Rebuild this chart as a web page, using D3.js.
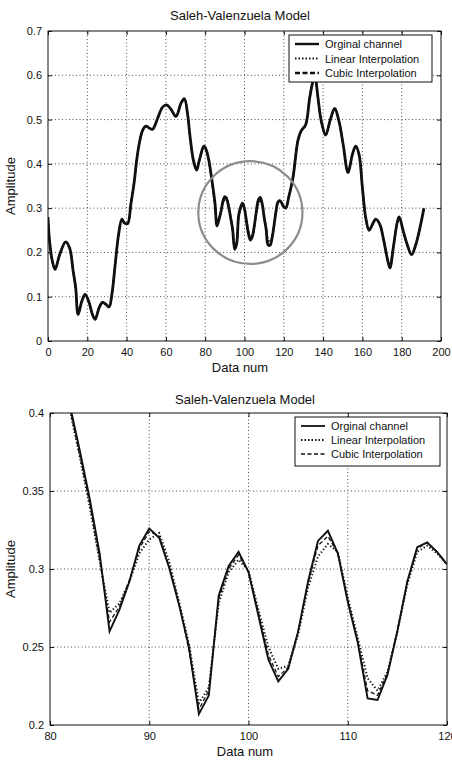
<!DOCTYPE html>
<html lang="en">
<head>
<meta charset="UTF-8">
<title>Saleh-Valenzuela Model</title>
<script src="https://cdnjs.cloudflare.com/ajax/libs/d3/7.8.5/d3.min.js"></script>
<style>
    body { margin: 0; background: #fff; }
    svg { display: block; font-family: "Liberation Sans", Arial, sans-serif; }
    .grid line { stroke: #222; stroke-width: 0.8; stroke-dasharray: 1,2.5; }
    .tick-lbl { font-size: 11px; fill: #111; }
</style>
</head>
<body>
<svg width="452" height="761"></svg>
<script>
    // ---- data ----
    // top plot, original channel before x = 80
    const topHeadX = [0, 0.5, 2, 3.6, 6, 9, 11, 12.8, 14.1, 15.3, 17.2, 18.9, 20.9, 22.6, 24, 26, 27.7, 29.4, 31.1, 32.5,
        34.2, 35.9, 37.6, 38.8, 40.5, 42.2, 43.9, 45.1, 46.4, 48.1, 49.8, 51.5, 53.2, 55.8, 58.3, 60.4, 62.6, 65.1, 67.7,
        69.4, 71.1, 72.2, 74, 75.6, 77, 79.3];
    const topHeadY = [0.28, 0.24, 0.185, 0.162, 0.196, 0.224, 0.21, 0.158, 0.12, 0.06, 0.09, 0.105, 0.087, 0.06, 0.049,
        0.075, 0.087, 0.083, 0.077, 0.105, 0.173, 0.24, 0.275, 0.267, 0.265, 0.31, 0.36, 0.407, 0.445, 0.475, 0.485,
        0.481, 0.478, 0.503, 0.528, 0.533, 0.523, 0.507, 0.537, 0.547, 0.51, 0.465, 0.408, 0.386, 0.408, 0.44];
    // top plot, original channel after x = 120
    const topTailX = [121, 122.5, 124.7, 127.2, 128.9, 131.1, 133.2, 134.9, 135.7, 137.4, 139.1, 141.3, 143.7, 145.9,
        148.1, 150.2, 152.7, 154.9, 156.6, 158.3, 160, 161.7, 163.4, 165.1, 166.8, 168.9, 170.9, 172.6, 174, 175.7,
        177.7, 178.7, 180.8, 182.8, 185, 187.2, 189.3, 191.3];
    const topTailY = [0.3, 0.325, 0.37, 0.453, 0.475, 0.488, 0.55, 0.59, 0.605, 0.549, 0.496, 0.465, 0.5, 0.525, 0.496,
        0.444, 0.38, 0.421, 0.44, 0.421, 0.346, 0.278, 0.25, 0.263, 0.275, 0.263, 0.226, 0.188, 0.165, 0.21, 0.267,
        0.28, 0.248, 0.218, 0.195, 0.218, 0.256, 0.3];

    // zoomed region, x = 80 .. 120
    const zoomX = d3.range(80, 121);
    const origY = [0.437, 0.425, 0.405, 0.376, 0.345, 0.31, 0.26, 0.274, 0.292, 0.315, 0.326, 0.32, 0.301, 0.277, 0.25,
        0.207, 0.219, 0.283, 0.302, 0.311, 0.298, 0.27, 0.242, 0.228, 0.236, 0.26, 0.292, 0.318, 0.3245, 0.31, 0.279,
        0.253, 0.217, 0.216, 0.232, 0.26, 0.292, 0.314, 0.317, 0.311, 0.303];
    const linearY = [0.437, 0.423, 0.402, 0.372, 0.34, 0.305, 0.272, 0.278, 0.292, 0.31, 0.319, 0.323, 0.305, 0.279,
        0.252, 0.214, 0.224, 0.278, 0.298, 0.306, 0.299, 0.274, 0.25, 0.236, 0.238, 0.258, 0.288, 0.308, 0.316, 0.311,
        0.282, 0.256, 0.23, 0.222, 0.234, 0.26, 0.29, 0.311, 0.315, 0.31, 0.303];
    const cubicY = [0.437, 0.424, 0.403, 0.373, 0.342, 0.306, 0.266, 0.276, 0.293, 0.313, 0.324, 0.321, 0.302, 0.278,
        0.248, 0.21, 0.222, 0.281, 0.3, 0.309, 0.298, 0.272, 0.245, 0.231, 0.237, 0.26, 0.291, 0.315, 0.321, 0.31, 0.28,
        0.254, 0.222, 0.219, 0.233, 0.261, 0.292, 0.313, 0.317, 0.311, 0.303];

    const topXTicks = d3.range(0, 201, 20);
    const topYTicks = [0, 0.1, 0.2, 0.3, 0.4, 0.5, 0.6, 0.7];
    const botXTicks = [80, 90, 100, 110, 120];
    const botYTicks = [0.2, 0.25, 0.3, 0.35, 0.4];
    const legendNames = ["Orginal channel", "Linear Interpolation", "Cubic Interpolation"];
    const ringCenter = [103, 0.29];   // highlighted area in the top plot
    const ringRadius = [26.5, 0.116];

    const svg = d3.select("svg");

    function zip(xs, ys) { return xs.map((x, i) => [x, ys[i]]); }

    function drawAxes(cfg) {
        const x = d3.scaleLinear().domain(cfg.xDomain).range(cfg.xRange);
        const y = d3.scaleLinear().domain(cfg.yDomain).range(cfg.yRange);
        const g = svg.append("g");
        const [x0, x1] = cfg.xRange, [y0, y1] = cfg.yRange;

        // grid
        const grid = g.append("g").attr("class", "grid");
        grid.selectAll(".gx").data(cfg.xTicks.slice(1, -1)).enter().append("line")
            .attr("x1", d => x(d)).attr("x2", d => x(d)).attr("y1", y0).attr("y2", y1);
        grid.selectAll(".gy").data(cfg.yTicks.slice(1, -1)).enter().append("line")
            .attr("y1", d => y(d)).attr("y2", d => y(d)).attr("x1", x0).attr("x2", x1);

        // ticks (inward, MATLAB style) + labels
        const xa = d3.axisBottom(x).tickValues(cfg.xTicks).tickSize(-4).tickPadding(7).tickFormat(cfg.xFmt);
        const ya = d3.axisLeft(y).tickValues(cfg.yTicks).tickSize(-4).tickPadding(6).tickFormat(cfg.yFmt);
        const gx = g.append("g").attr("transform", `translate(0,${y0})`).call(xa);
        const gy = g.append("g").attr("transform", `translate(${x0},0)`).call(ya);
        [gx, gy].forEach(a => {
            a.select(".domain").remove();
            a.selectAll("line").attr("stroke", "#111");
            a.selectAll("text").attr("class", "tick-lbl").attr("font-size", null)
                .attr("font-family", null);
        });
        // mirror ticks on top/right
        g.append("g").attr("transform", `translate(0,${y1})`)
            .call(d3.axisTop(x).tickValues(cfg.xTicks).tickSize(-4).tickFormat(""))
            .call(a => { a.select(".domain").remove(); a.selectAll("line").attr("stroke", "#111"); });
        g.append("g").attr("transform", `translate(${x1},0)`)
            .call(d3.axisRight(y).tickValues(cfg.yTicks).tickSize(-4).tickFormat(""))
            .call(a => { a.select(".domain").remove(); a.selectAll("line").attr("stroke", "#111"); });

        // box
        g.append("rect").attr("x", x0).attr("y", y1).attr("width", x1 - x0).attr("height", y0 - y1)
            .attr("fill", "none").attr("stroke", "#111").attr("stroke-width", 1);

        // clip
        const id = "clip" + cfg.id;
        svg.append("clipPath").attr("id", id).append("rect")
            .attr("x", x0).attr("y", y1).attr("width", x1 - x0).attr("height", y0 - y1);
        const plot = g.append("g").attr("clip-path", `url(#${id})`);

        // titles
        g.append("text").attr("x", cfg.titleX).attr("y", y1 - cfg.titleGap).attr("text-anchor", "middle")
            .attr("font-size", 13).attr("fill", "#111").text("Saleh-Valenzuela Model");
        g.append("text").attr("x", cfg.titleX).attr("y", y0 + 31).attr("text-anchor", "middle")
            .attr("font-size", 13).attr("fill", "#111").text("Data num");
        g.append("text").attr("transform", `translate(15,${(y0 + y1) / 2}) rotate(-90)`)
            .attr("text-anchor", "middle").attr("font-size", 13).attr("fill", "#111").text("Amplitude");

        return { x, y, g, plot };
    }

    function legend(g, lx, ly, w, h, rowH, styles) {
        const lg = g.append("g").attr("transform", `translate(${lx},${ly})`);
        lg.append("rect").attr("width", w).attr("height", h).attr("fill", "#fff")
            .attr("stroke", "#111").attr("stroke-width", 1);
        legendNames.forEach((name, i) => {
            const cy = 9 + i * rowH;
            lg.append("line").attr("x1", 6).attr("x2", 30).attr("y1", cy).attr("y2", cy)
                .attr("stroke", "#111").attr("stroke-width", styles[i].w)
                .attr("stroke-dasharray", styles[i].dash);
            lg.append("text").attr("x", 36).attr("y", cy + 4).attr("font-size", 11)
                .attr("fill", "#111").text(name);
        });
    }

    const line = (x, y) => d3.line().x(d => x(d[0])).y(d => y(d[1]));

    // ---------- top plot ----------
    const topPlot = drawAxes({
        id: "top", xDomain: [0, 200], xRange: [48, 441], yDomain: [0, 0.7], yRange: [341, 31],
        xTicks: topXTicks, yTicks: topYTicks, xFmt: d3.format("d"), yFmt: d => d === 0 ? "0" : d3.format(".1f")(d),
        titleX: 240, titleGap: 11
    });
    const topOrig = zip(topHeadX, topHeadY).concat(zip(zoomX, origY)).concat(zip(topTailX, topTailY));
    const topLin = zip(topHeadX, topHeadY).concat(zip(zoomX, linearY)).concat(zip(topTailX, topTailY));
    const topCub = zip(topHeadX, topHeadY).concat(zip(zoomX, cubicY)).concat(zip(topTailX, topTailY));
    const lt = line(topPlot.x, topPlot.y).curve(d3.curveCatmullRom);
    topPlot.plot.append("path").attr("d", lt(topOrig)).attr("fill", "none").attr("stroke", "#111")
        .attr("stroke-width", 2.8).attr("stroke-linejoin", "round");
    topPlot.plot.append("path").attr("d", lt(topLin)).attr("fill", "none").attr("stroke", "#111")
        .attr("stroke-width", 2).attr("stroke-dasharray", "1.5,2");
    topPlot.plot.append("path").attr("d", lt(topCub)).attr("fill", "none").attr("stroke", "#111")
        .attr("stroke-width", 1.6).attr("stroke-dasharray", "5,3");
    topPlot.plot.append("ellipse")
        .attr("cx", topPlot.x(ringCenter[0])).attr("cy", topPlot.y(ringCenter[1]))
        .attr("rx", topPlot.x(ringCenter[0] + ringRadius[0]) - topPlot.x(ringCenter[0]))
        .attr("ry", topPlot.y(ringCenter[1]) - topPlot.y(ringCenter[1] + ringRadius[1]))
        .attr("fill", "none").attr("stroke", "#8c8c8c").attr("stroke-width", 2.2);
    legend(topPlot.g, 289, 35, 143, 47, 14.5, [
        { w: 2.4, dash: null }, { w: 2, dash: "1.5,2" }, { w: 2.4, dash: "5,2.5" }
    ]);

    // ---------- bottom plot ----------
    const botPlot = drawAxes({
        id: "bot", xDomain: [80, 120], xRange: [50, 447], yDomain: [0.2, 0.4], yRange: [725, 413],
        xTicks: botXTicks, yTicks: botYTicks, xFmt: d3.format("d"), yFmt: d => String(+d.toFixed(2)),
        titleX: 245, titleGap: 9
    });
    const lb = line(botPlot.x, botPlot.y);
    botPlot.plot.append("path").attr("d", lb(zip(zoomX, cubicY))).attr("fill", "none").attr("stroke", "#111")
        .attr("stroke-width", 1.3).attr("stroke-dasharray", "4,2.5");
    botPlot.plot.append("path").attr("d", lb(zip(zoomX, linearY))).attr("fill", "none").attr("stroke", "#111")
        .attr("stroke-width", 2).attr("stroke-dasharray", "1.3,2.2");
    botPlot.plot.append("path").attr("d", lb(zip(zoomX, origY))).attr("fill", "none").attr("stroke", "#111")
        .attr("stroke-width", 1.9).attr("stroke-linejoin", "miter");
    legend(botPlot.g, 295, 417, 145, 49, 14, [
        { w: 1.8, dash: null }, { w: 2, dash: "1.5,2" }, { w: 1.3, dash: "4,2.5" }
    ]);
</script>
</body>
</html>
